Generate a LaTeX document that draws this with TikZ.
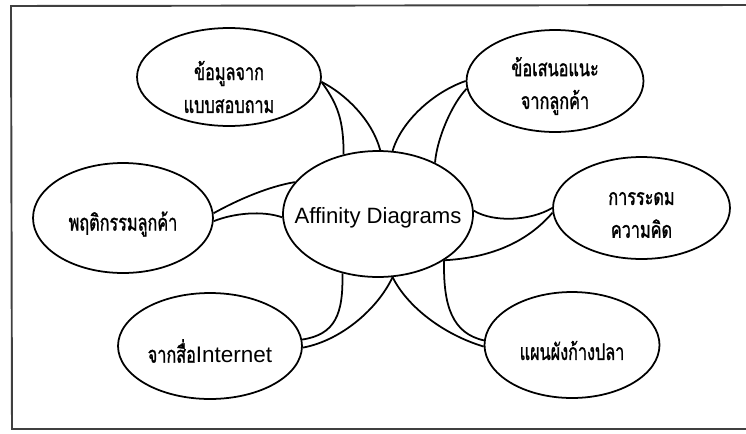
\documentclass[tikz,border=0pt]{standalone}
\usepackage{fontspec}
\setmainfont{Liberation Sans}
\newfontfamily\thaifont[Script=Thai, FakeStretch=0.71, FakeBold=1.2]{Loma}
\usetikzlibrary{shapes.geometric}
\tikzset{
  bubble/.style={ellipse, draw, line width=1pt, inner sep=0pt},
  thaitext/.style={inner sep=0pt, align=center,
    font=\thaifont\fontsize{13}{18.7}\selectfont},
  link/.style={line width=1pt},
  frameline/.style={line width=1.1pt, draw=black!75}
}
\begin{document}
\begin{tikzpicture}[x=0.02cm, y=-0.02cm]
  \useasboundingbox (0,0) rectangle (746,433);
  % open frame (top, left, bottom)
  \coordinate (f1) at (746,5);
  \coordinate (f2) at (11,6);
  \coordinate (f3) at (12,429);
  \coordinate (f4) at (746,429);
  \draw[frameline] (f1) -- (f2) -- (f3) -- (f4);

  % central topic
  \node[bubble, minimum width=3.8cm, minimum height=2.52cm] (c) at (378,214) {};
  \node[inner sep=0pt, font=\fontsize{12.6}{15}\selectfont] (c-t)
    at ([yshift=-0.08cm]c.center) {Affinity Diagrams};

  % surrounding topics
  \node[bubble, minimum width=3.68cm, minimum height=1.96cm] (tl) at (229,77) {};
  \node[bubble, minimum width=3.6cm, minimum height=2.2cm] (lf) at (123,218) {};
  \node[bubble, minimum width=3.68cm, minimum height=2.12cm] (bl) at (210,346) {};
  \node[bubble, minimum width=3.54cm, minimum height=2.04cm] (tr) at (555,81) {};
  \node[bubble, minimum width=3.54cm, minimum height=2.04cm] (rt) at (641.5,208) {};
  \node[bubble, minimum width=3.5cm, minimum height=2.12cm] (br) at (572,345) {};

  \node[thaitext] (tl-t) at ([yshift=-0.2cm]tl.center) {ข้อมูลจาก\\แบบสอบถาม};
  \node[thaitext] (lf-t) at ([yshift=-0.12cm]lf.center) {พฤติกรรมลูกค้า};
  \node[thaitext] (bl-t) at ([yshift=-0.1cm]bl.center)
    {จากสื่อ{\rmfamily\fontsize{12.8}{15}\selectfont Internet}};
  \node[thaitext] (tr-t) at ([yshift=-0.1cm]tr.center) {ข้อเสนอแนะ\\จากลูกค้า};
  \node[thaitext] (rt-t) at ([yshift=-0.14cm]rt.center) {การระดม\\ความคิด};
  \node[thaitext] (br-t) at ([yshift=-0.11cm]br.center) {แผนผังก้างปลา};

  % paired curved links
  \draw[link] (tl.357) .. controls +(16,22) and +(0,-35) .. (c.120);
  \draw[link] (tl.357) .. controls +(24,12) and +(-8,-30) .. (c.88);
  \draw[link] (tr.180) .. controls +(-32,11) and +(9,-30) .. (c.77);
  \draw[link] (tr.185) .. controls +(-14,14) and +(2,-25) .. (c.42);
  \draw[link] (lf.3) .. controls +(25,-14) and +(-25,4) .. (c.159);
  \draw[link] (lf.-2) .. controls +(20,-8) and +(-20,-7) .. (c.182);
  \draw[link] (c.2) .. controls +(20,12) and +(-22,13) .. (rt.180);
  \draw[link] (c.325) .. controls +(37,-2) and +(-30,35) .. (rt.183);
  \draw[link] (c.239) .. controls +(1,41) and +(33,-5) .. (bl.4);
  \draw[link] (c.283) .. controls +(-15,32) and +(38,-7) .. (bl.-1);
  \draw[link] (c.283) .. controls +(15,30) and +(-40,-12) .. (br.181);
  \draw[link] (c.325) .. controls +(-1,45) and +(-32,-7) .. (br.177);
\end{tikzpicture}
\end{document}
